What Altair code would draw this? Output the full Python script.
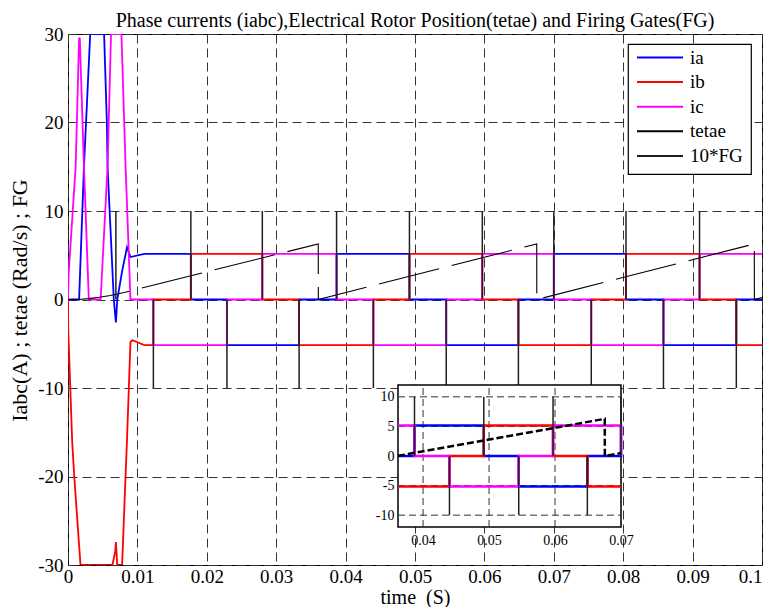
import altair as alt
import pandas as pd

T_END = 0.1

# ---------------- start-up transient vertices ----------------
ia_start_t = [0.0, 0.0016, 0.0023, 0.0032, 0.0052, 0.0056, 0.0057, 0.0066, 0.0069, 0.0071, 0.0078, 0.0085, 0.0090, 0.0110]
ia_start_v = [0.0, 0.0, 15.0, 30.0, 30.0, 20.0, 15.0, 0.0, -2.6, 0.0, 3.2, 5.9, 4.8, 5.15]
ib_start_t = [0.0, 0.00004, 0.0006, 0.0009, 0.0018, 0.0064, 0.0068, 0.0069, 0.0071, 0.0078, 0.0083, 0.0085, 0.0090, 0.0093, 0.0110]
ib_start_v = [0.0, -3.5, -16.0, -20.0, -30.0, -30.0, -28.5, -27.4, -30.0, -30.0, -19.8, -15.9, -4.8, -4.6, -5.15]
ic_start_t = [0.0, 0.0001, 0.0011, 0.0016, 0.0017, 0.0023, 0.0030, 0.0047, 0.0057, 0.0062, 0.0077, 0.0083, 0.0090]
ic_start_v = [0.0, 3.0, 15.0, 29.5, 29.5, 15.0, 0.0, 0.0, 15.0, 30.0, 30.0, 15.0, 0.0]

# ---------------- commutation instants and level each phase switches to ----------------
ia_sw_t = [0.0177, 0.0229, 0.0333, 0.0387, 0.0492, 0.0545, 0.0649, 0.0700, 0.0804, 0.0858, 0.0963]
ia_sw_v = [0.0, -5.15, 0.0, 5.15, 0.0, -5.15, 0.0, 5.15, 0.0, -5.15, 0.0]
ib_sw_t = [0.0123, 0.0177, 0.0280, 0.0333, 0.0440, 0.0492, 0.0597, 0.0649, 0.0754, 0.0804, 0.0910, 0.0963]
ib_sw_v = [0.0, 5.15, 0.0, -5.15, 0.0, 5.15, 0.0, -5.15, 0.0, 5.15, 0.0, -5.15]
ic_sw_t = [0.0123, 0.0229, 0.0280, 0.0387, 0.0440, 0.0545, 0.0597, 0.0700, 0.0754, 0.0858, 0.0910]
ic_sw_v = [-5.15, 0.0, 5.15, 0.0, -5.15, 0.0, 5.15, 0.0, -5.15, 0.0, 5.15]

# ---------------- electrical rotor position (sawtooth vertices) ----------------
tet_t = [0.0, 0.0015, 0.0030, 0.0045, 0.0061, 0.0081, 0.03606, 0.03607, 0.06754, 0.06755, 0.09889, 0.09890, 0.1]
tet_v = [0.0, 0.0, 0.1, 0.25, 0.45, 0.8, 6.28, 0.0, 6.28, 0.0, 6.28, 0.0, 0.22]

# ---------------- firing gate pulses (10*FG) ----------------
fg_up_t = [0.0069, 0.0177, 0.0280, 0.0387, 0.0492, 0.0597, 0.0700, 0.0804, 0.0910]
fg_dn_t = [0.0123, 0.0229, 0.0333, 0.0440, 0.0545, 0.0649, 0.0754, 0.0858, 0.0963]
fg_amp = 10.0

# ---------------- axes ----------------
x_ticks = [0, 0.01, 0.02, 0.03, 0.04, 0.05, 0.06, 0.07, 0.08, 0.09, 0.1]
y_ticks = [-30, -20, -10, 0, 10, 20, 30]
x_dom = [0.0, 0.1]
y_dom = [-30, 30]
in_x_ticks = [0.04, 0.05, 0.06, 0.07]
in_y_ticks = [-10, -5, 0, 5, 10]
in_x_dom = [0.0362, 0.07]
in_y_dom = [-12, 12]

series_names = ["ia", "ib", "ic", "tetae", "10*FG"]
series_colors = ["#0000ff", "#ff0000", "#ff00ff", "#000000", "#202020"]

TITLE = "Phase currents (iabc),Electrical Rotor Position(tetae) and Firing Gates(FG)"
XTITLE = "time \u00a0(S)"
YTITLE = "Iabc(A) ; tetae (Rad/s) ; FG"
FONT = "Liberation Serif"

W, H = 694, 531
# inset placement inside the plot area (pixels)
IN_X_RANGE = [330, 553]
IN_Y_RANGE = [493, 351]


def step_poly(st, sv, swt, swv, tend):
    ts, vs = list(st), list(sv)
    cur = vs[-1]
    for t, v in zip(swt, swv):
        ts += [t, t]
        vs += [cur, v]
        cur = v
    ts.append(tend)
    vs.append(cur)
    return ts, vs


def clip_poly(ts, vs, a, b):
    pts = []
    for i in range(len(ts) - 1):
        t0, v0, t1, v1 = ts[i], vs[i], ts[i + 1], vs[i + 1]
        if t1 < a or t0 > b:
            continue
        s0, s1 = max(t0, a), min(t1, b)
        f0 = v0 if s0 == t0 else v0 + (v1 - v0) * (s0 - t0) / (t1 - t0)
        f1 = v1 if s1 == t1 else v0 + (v1 - v0) * (s1 - t0) / (t1 - t0)
        if not pts or pts[-1] != (s0, f0):
            pts.append((s0, f0))
        pts.append((s1, f1))
    return [p[0] for p in pts], [p[1] for p in pts]


def frame(ts, vs, name):
    return pd.DataFrame({"t": ts, "v": vs, "series": name, "ord": list(range(len(ts)))})


ia = step_poly(ia_start_t, ia_start_v, ia_sw_t, ia_sw_v, T_END)
ib = step_poly(ib_start_t, ib_start_v, ib_sw_t, ib_sw_v, T_END)
ic = step_poly(ic_start_t, ic_start_v, ic_sw_t, ic_sw_v, T_END)
tet = (tet_t, tet_v)

fg_df = pd.DataFrame({
    "t": fg_up_t + fg_dn_t,
    "y0": [0.0] * (len(fg_up_t) + len(fg_dn_t)),
    "y1": [fg_amp] * len(fg_up_t) + [-fg_amp] * len(fg_dn_t),
    "series": "10*FG",
})

color = alt.Color("series:N", scale=alt.Scale(domain=series_names, range=series_colors), title=None)

mx_scale = alt.Scale(domain=x_dom, nice=False, zero=False)
my_scale = alt.Scale(domain=y_dom, nice=False, zero=False)
mx_axis = alt.Axis(values=x_ticks, labelExpr="'' + datum.value", grid=True, gridDash=[9, 5],
                   gridColor="#333333", gridWidth=1, ticks=False, domain=False,
                   labelFont=FONT, labelFontSize=19, labelColor="black", labelPadding=2,
                   labelFlush=False, labelOverlap=False,
                   labelAlign={"condition": {"test": "datum.value >= 0.1", "value": "right"}, "value": "center"},
                   title=XTITLE, titleFont=FONT, titleFontSize=20, titleFontWeight="normal",
                   titleColor="black", titleX=347, titleY=32, titleBaseline="middle")
my_axis = alt.Axis(values=y_ticks, labelExpr="'' + datum.value", grid=True, gridDash=[9, 5],
                   gridColor="#333333", gridWidth=1, ticks=False, domain=False,
                   labelFont=FONT, labelFontSize=19, labelColor="black", labelPadding=5,
                   labelFlush=False, labelOverlap=False,
                   title=YTITLE, titleFont=FONT, titleFontSize=22, titleFontWeight="normal",
                   titleColor="black", titleX=-49, titleY=266, titleBaseline="middle", titleAngle=-90)


def main_line(df, width, dash=None):
    kw = dict(strokeWidth=width, clip=True)
    if dash:
        kw["strokeDash"] = dash
    return alt.Chart(df).mark_line(**kw).encode(
        x=alt.X("t:Q", scale=mx_scale, axis=mx_axis),
        y=alt.Y("v:Q", scale=my_scale, axis=my_axis),
        color=color,
        order="ord:Q",
    )


main = alt.layer(
    main_line(frame(*ia, "ia"), 1.8),
    main_line(frame(*ib, "ib"), 1.8),
    main_line(frame(*ic, "ic"), 1.8),
    main_line(frame(*tet, "tetae"), 1.1, [62, 13]),
    alt.Chart(fg_df).mark_rule(strokeWidth=1.5, clip=True).encode(
        x=alt.X("t:Q", scale=mx_scale, axis=mx_axis),
        y=alt.Y("y0:Q", scale=my_scale, axis=my_axis),
        y2="y1:Q",
        color=color,
    ),
)

# ---------------- inset ----------------
ix_scale = alt.Scale(domain=in_x_dom, range=IN_X_RANGE, nice=False, zero=False)
iy_scale = alt.Scale(domain=in_y_dom, range=IN_Y_RANGE, nice=False, zero=False)
ix_axis = alt.Axis(orient="bottom", offset=-(H - IN_Y_RANGE[0]), values=in_x_ticks,
                   labelExpr="'' + datum.value", grid=False, ticks=False, domain=False,
                   labelFont=FONT, labelFontSize=14, labelColor="black", labelPadding=6,
                   labelFlush=False, labelOverlap=False, title=None)
iy_axis = alt.Axis(orient="left", offset=-IN_X_RANGE[0], values=in_y_ticks,
                   labelExpr="'' + datum.value", grid=False, ticks=False, domain=False,
                   labelFont=FONT, labelFontSize=14, labelColor="black", labelPadding=4,
                   labelFlush=False, labelOverlap=False, title=None)

box_df = pd.DataFrame({"x0": [in_x_dom[0]], "x1": [in_x_dom[1]], "y0": [in_y_dom[0]], "y1": [in_y_dom[1]]})
gx_df = pd.DataFrame({"t": in_x_ticks, "lo": in_y_dom[0], "hi": in_y_dom[1]})
gy_df = pd.DataFrame({"v": in_y_ticks, "lo": in_x_dom[0], "hi": in_x_dom[1]})

inset_box = alt.Chart(box_df).mark_rect(fill="white", stroke="black", strokeWidth=1.5).encode(
    x=alt.X("x0:Q", scale=ix_scale, axis=ix_axis), x2="x1:Q",
    y=alt.Y("y0:Q", scale=iy_scale, axis=iy_axis), y2="y1:Q",
)
inset_gx = alt.Chart(gx_df).mark_rule(strokeDash=[7, 4], color="#333333", strokeWidth=1).encode(
    x=alt.X("t:Q", scale=ix_scale, axis=ix_axis),
    y=alt.Y("lo:Q", scale=iy_scale, axis=iy_axis), y2="hi:Q",
)
inset_gy = alt.Chart(gy_df).mark_rule(strokeDash=[7, 4], color="#333333", strokeWidth=1).encode(
    y=alt.Y("v:Q", scale=iy_scale, axis=iy_axis),
    x=alt.X("lo:Q", scale=ix_scale, axis=ix_axis), x2="hi:Q",
)


def inset_line(poly, name, width, dash=None):
    ts, vs = clip_poly(poly[0], poly[1], in_x_dom[0], in_x_dom[1])
    kw = dict(strokeWidth=width)
    if dash:
        kw["strokeDash"] = dash
    return alt.Chart(frame(ts, vs, name)).mark_line(**kw).encode(
        x=alt.X("t:Q", scale=ix_scale, axis=ix_axis),
        y=alt.Y("v:Q", scale=iy_scale, axis=iy_axis),
        color=color,
        order="ord:Q",
    )


fg_in = fg_df[(fg_df.t >= in_x_dom[0]) & (fg_df.t <= in_x_dom[1])]
inset = alt.layer(
    inset_box, inset_gx, inset_gy,
    inset_line(ia, "ia", 2.5),
    inset_line(ib, "ib", 2.5),
    inset_line(ic, "ic", 2.5),
    alt.Chart(fg_in).mark_rule(strokeWidth=1.5).encode(
        x=alt.X("t:Q", scale=ix_scale, axis=ix_axis),
        y=alt.Y("y0:Q", scale=iy_scale, axis=iy_axis), y2="y1:Q",
        color=color,
    ),
    inset_line(tet, "tetae", 2.5, [7, 3]),
)

chart = alt.layer(main, inset).resolve_scale(x="independent", y="independent").properties(
    width=W, height=H,
    padding={"left": 60, "top": 26, "right": 1, "bottom": 42},
    autosize=alt.AutoSizeParams(type="none"),
    title=alt.TitleParams(TITLE, font=FONT, fontSize=20, fontWeight="normal", color="black",
                          anchor="middle", frame="group", offset=-6),
).configure_view(
    stroke="black", strokeWidth=1,
).configure_legend(
    orient="none", legendX=560, legendY=10,
    fillColor="white", strokeColor="black", strokeWidth=1.2, padding=8,
    symbolType="stroke", symbolSize=2116, symbolStrokeWidth=2,
    labelFont=FONT, labelFontSize=19, labelColor="black", labelOffset=6, labelLimit=300,
    clipHeight=11, rowPadding=4.6,
)

chart.save("out.html", embed_options={"renderer": "svg", "actions": False})
